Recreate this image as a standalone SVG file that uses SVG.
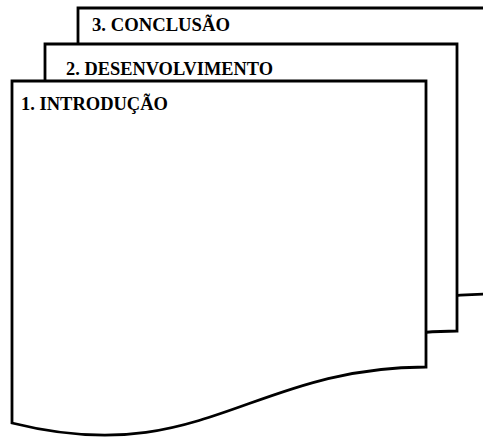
<svg xmlns="http://www.w3.org/2000/svg" width="483" height="439" viewBox="0 0 483 439">
<style>
.page{fill:#fff;stroke:#000;stroke-width:2.8;stroke-linejoin:miter}
.lbl{font-family:"Liberation Serif","Times New Roman",serif;font-weight:bold;font-size:19.5px;fill:#000}
</style>
<defs>
<path id="doc" d="M0 0 H414 V286 C238 286 188 389 0 342 Z"/>
<path id="doc2" d="M0 0 H412 V287 C237 287 188 389 0 342 Z"/>
</defs>
<rect width="483" height="439" fill="#fff"/>
<g id="page3">
<use href="#doc" class="page" x="78" y="8"/>
<text class="lbl" x="92" y="30.5" textLength="138" lengthAdjust="spacingAndGlyphs">3. CONCLUSÃO</text>
</g>
<g id="page2">
<use href="#doc2" class="page" x="45" y="44"/>
<text class="lbl" x="66" y="74.5" textLength="207" lengthAdjust="spacingAndGlyphs">2. DESENVOLVIMENTO</text>
</g>
<g id="page1">
<use href="#doc" class="page" x="12" y="81"/>
<text class="lbl" x="21" y="109.5" textLength="147" lengthAdjust="spacingAndGlyphs">1. INTRODUÇÃO</text>
</g>
<g id="connectors"/>
</svg>
